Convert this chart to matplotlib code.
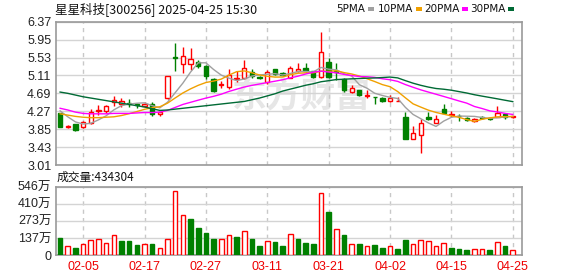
import numpy as np
import matplotlib
matplotlib.use("Agg")
import matplotlib.pyplot as plt

plt.rcParams['font.family'] = ['Noto Sans CJK SC', 'DejaVu Sans']

# ---------------- data ----------------
dates = ["01-23", "01-24", "01-27",
         "02-05", "02-06", "02-07", "02-10", "02-11", "02-12", "02-13", "02-14", "02-17", "02-18",
         "02-19", "02-20", "02-21", "02-24", "02-25", "02-26", "02-27", "02-28",
         "03-03", "03-04", "03-05", "03-06", "03-07", "03-10", "03-11", "03-12", "03-13", "03-14",
         "03-17", "03-18", "03-19", "03-20", "03-21", "03-24", "03-25", "03-26", "03-27", "03-28", "03-31",
         "04-01", "04-02", "04-03", "04-07", "04-08", "04-09", "04-10", "04-11", "04-14", "04-15",
         "04-16", "04-17", "04-18", "04-21", "04-22", "04-23", "04-24", "04-25"]

opens = [4.22, 3.89, 3.96, 3.91, 3.99, 4.27, 4.28, 4.49, 4.43, 4.47,
         4.43, 4.40, 4.43, 4.20, 4.57, 5.55, 5.37, 5.37, 5.43, 5.34,
         5.02, 4.89, 4.83, 5.03, 5.06, 5.19, 5.08, 4.95, 5.25, 5.16,
         5.06, 5.22, 5.29, 5.21, 5.07, 5.42, 5.22, 5.03, 4.71, 4.77,
         4.62, 4.61, 4.59, 4.50, 4.50, 4.14, 3.63, 3.71, 4.14, 4.00,
         4.32, 4.19, 4.17, 4.11, 4.03, 4.13, 4.12, 4.14, 4.20, 4.13]
highs = [4.23, 3.94, 3.97, 4.04, 4.33, 4.41, 4.42, 4.63, 4.59, 4.55,
         4.47, 4.48, 4.48, 4.26, 5.10, 5.88, 5.78, 5.76, 5.48, 5.35,
         5.06, 4.98, 5.25, 5.22, 5.47, 5.26, 5.10, 5.24, 5.26, 5.18,
         5.34, 5.39, 5.39, 5.22, 6.12, 5.51, 5.40, 5.06, 4.89, 4.78,
         4.77, 4.61, 4.61, 4.65, 4.61, 4.26, 3.92, 4.08, 4.26, 4.18,
         4.44, 4.28, 4.20, 4.14, 4.12, 4.15, 4.14, 4.39, 4.22, 4.17]
lows = [3.90, 3.87, 3.81, 3.88, 3.97, 4.18, 4.23, 4.40, 4.38, 4.36,
        4.34, 4.38, 4.17, 4.17, 4.55, 5.22, 5.16, 5.24, 5.29, 5.02,
        4.71, 4.81, 4.79, 4.96, 5.02, 5.06, 5.02, 4.91, 5.13, 5.09,
        5.04, 5.18, 5.18, 5.05, 5.05, 5.04, 5.00, 4.72, 4.69, 4.62,
        4.57, 4.43, 4.49, 4.49, 4.50, 3.61, 3.61, 3.30, 4.07, 3.99,
        4.22, 4.14, 4.05, 4.03, 4.01, 4.08, 4.07, 4.13, 4.08, 4.11]
closes = [3.91, 3.92, 3.84, 4.01, 4.26, 4.31, 4.40, 4.53, 4.51, 4.44,
          4.41, 4.45, 4.20, 4.25, 5.10, 5.53, 5.57, 5.49, 5.34, 5.10,
          4.75, 4.91, 5.13, 5.06, 5.28, 5.10, 5.04, 5.20, 5.14, 5.12,
          5.28, 5.26, 5.22, 5.08, 5.65, 5.07, 5.19, 4.76, 4.81, 4.64,
          4.65, 4.60, 4.50, 4.59, 4.51, 3.61, 3.77, 4.00, 4.09, 4.10,
          4.24, 4.21, 4.15, 4.07, 4.08, 4.11, 4.10, 4.24, 4.14, 4.15]
# volume in 万 (10k lots)
volumes = [136, 70, 56, 88, 117, 125, 93, 157, 112, 112,
           80, 85, 88, 53, 125, 509, 320, 288, 216, 176,
           128, 128, 160, 144, 192, 128, 72, 110, 104, 72,
           168, 128, 99, 88, 493, 344, 205, 160, 88, 88,
           70, 80, 56, 70, 48, 120, 88, 117, 110, 70,
           93, 56, 48, 40, 45, 45, 40, 104, 72, 43.4304]

# moving-average values for the first days (history before the window)
ma5_head = [4.28, 4.14, 4.02, 3.97]
ma10_head = [4.21, 4.18, 4.15, 4.13, 4.12, 4.12, 4.13, 4.14, 4.17]
ma20_head = [4.34, 4.30, 4.25, 4.22, 4.21, 4.21, 4.21, 4.22, 4.22, 4.22,
             4.23, 4.24, 4.24, 4.25, 4.29, 4.36, 4.43, 4.48, 4.53]
ma30_head = [4.72, 4.69, 4.65, 4.61, 4.58, 4.55, 4.52, 4.49, 4.46, 4.43,
             4.40, 4.37, 4.33, 4.29, 4.30, 4.32, 4.34, 4.36, 4.38, 4.40,
             4.42, 4.44, 4.46, 4.48, 4.50, 4.54, 4.58, 4.63, 4.68]

price_ticks = [3.01, 3.43, 3.85, 4.27, 4.69, 5.11, 5.53, 5.95, 6.37]
vol_ticks = [0, 136.5, 273, 409.5, 546]
vol_tick_labels = ["0", "137万", "273万", "410万", "546万"]
label_dates = ["02-05", "02-17", "02-27", "03-11", "03-21", "04-02", "04-15", "04-25"]
ma_names = ["5PMA", "10PMA", "20PMA", "30PMA"]
title = "星星科技[300256] 2025-04-25 15:30"
vol_title = "成交量:434304"

# ---------------- derived ----------------
o = np.array(opens); h = np.array(highs); l = np.array(lows); c = np.array(closes)
v = np.array(volumes)
n = len(c)
x = np.arange(n)


def moving(w, head):
    vals = list(head)
    for i in range(w - 1, n):
        vals.append(c[i - w + 1:i + 1].mean())
    return np.array(vals)


mas = [moving(5, ma5_head), moving(10, ma10_head), moving(20, ma20_head), moving(30, ma30_head)]

RED = "#ff0000"
GREEN = "#008000"
ma_colors = ["#a0a0a0", "#f0a000", "#ff00ff", "#006a35"]
GRID = "#d4d4d4"
SPINE = "#9a9a9a"

W, H = 578, 276
fig = plt.figure(figsize=(W / 100, H / 100), dpi=100)


def fx(px):
    return px / W


def fy(py):
    return 1 - py / H


left, right = 55.5, 522
ax = fig.add_axes([fx(left), fy(165), fx(right - left), fy(21.7) - fy(165)])
axv = fig.add_axes([fx(left), fy(255), fx(right - left), fy(186.7) - fy(255)])

xmin, xmax = -0.6, 60.2
tick_idx = [dates.index(d) for d in label_dates]

# watermark
ax.text(31.5, 4.62, "东方财富", fontsize=25, fontweight="bold", color="#e6e6e6",
        ha="center", va="center", zorder=0, fontstyle="italic")

# candles
up = c >= o
bw = 0.56
ax.vlines(x, l, h, colors=[RED if u else GREEN for u in up], linewidth=1, zorder=3)
body_h = np.maximum(np.abs(c - o), 0.004)
body_b = np.minimum(o, c)
ax.bar(x[up], body_h[up], bw, bottom=body_b[up], facecolor="white", edgecolor=RED,
       linewidth=1, zorder=4)
ax.bar(x[~up], body_h[~up], bw, bottom=body_b[~up], facecolor=GREEN, edgecolor=GREEN,
       linewidth=1, zorder=4)

for m, col in zip(mas, ma_colors):
    ax.plot(x, m, color=col, linewidth=1, zorder=5)

ax.set_xlim(xmin, xmax)
ax.set_ylim(3.01, 6.37)
ax.set_yticks(price_ticks)
ax.set_yticklabels([f"{t:.2f}" for t in price_ticks])
ax.set_xticks(tick_idx)
ax.set_xticklabels([])

# volume
prev = np.concatenate([[o[0]], c[:-1]])
vup = c > prev
vup[0] = up[0]
vw = 0.6
axv.bar(x[vup], v[vup], vw, facecolor="white", edgecolor=RED, linewidth=1, zorder=3)
axv.bar(x[~vup], v[~vup], vw, facecolor=GREEN, edgecolor=GREEN, linewidth=1, zorder=3)
axv.set_xlim(xmin, xmax)
axv.set_ylim(0, 546)
axv.set_yticks(vol_ticks)
axv.set_yticklabels(vol_tick_labels)
axv.set_xticks(tick_idx)
axv.set_xticklabels(label_dates)

for a in (ax, axv):
    a.grid(axis="y", color=GRID, linewidth=1, linestyle="-", zorder=1)
    a.grid(axis="x", color="#c8c8c8", linewidth=1, linestyle=(0, (3, 3)), zorder=1)
    a.set_axisbelow(True)
    for s in a.spines.values():
        s.set_color(SPINE)
        s.set_linewidth(1.2)
    a.tick_params(length=0, pad=3)
    for t in a.get_yticklabels():
        t.set_fontsize(9)
        t.set_color("#222222")
        t.set_family(["Liberation Sans", "Noto Sans CJK SC"])
axv.tick_params(axis="x", pad=4)
for t in axv.get_xticklabels():
    t.set_fontsize(9)
    t.set_color("#ee0000")
    t.set_family(["Liberation Sans"])

# texts
fig.text(fx(55), fy(9), title, fontsize=9, color="#111111", va="center", ha="left")
fig.text(fx(57), fy(177.5), vol_title, fontsize=8.5, color="#111111", va="center", ha="left")

renderer = fig.canvas.get_renderer()
leg_x = [336, 378, 424, 470]
for name, col, lx in zip(ma_names, ma_colors, leg_x):
    t = fig.text(fx(lx), fy(9), name, fontsize=7.5, color="#111111", va="center", ha="left",
                 family=["DejaVu Sans"])
    ext = t.get_window_extent(renderer=renderer)
    mx = ext.x1 + 3
    fig.patches.append(plt.Rectangle((mx / W, fy(10.5)), fx(6), fy(7.5) - fy(10.5),
                                     transform=fig.transFigure, facecolor=col, edgecolor="none"))

fig.savefig("out.png", dpi=100)
